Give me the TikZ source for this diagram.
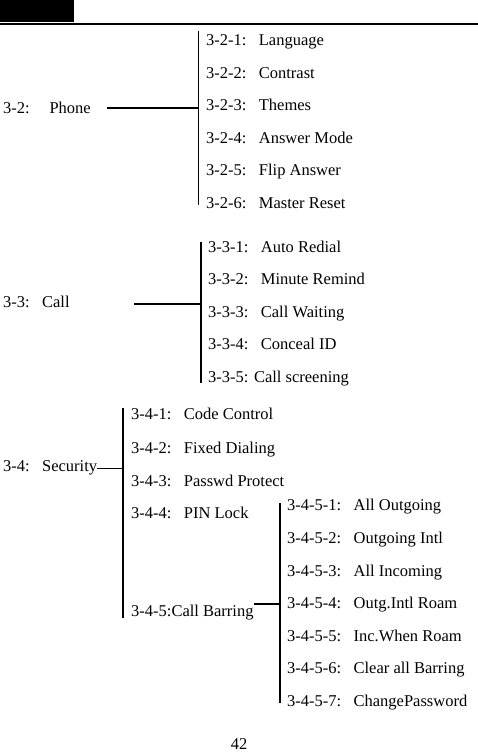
\documentclass[tikz,border=0pt]{standalone}
\usepackage{fontspec}
\setmainfont{Liberation Serif}
\usetikzlibrary{positioning}
\newcommand{\gap}{\hspace{0.75em}}

\begin{document}
\begin{tikzpicture}[
    x=1pt, y=-1pt,
    item/.style={anchor=base west, inner sep=0pt, font=\fontsize{16.5}{19}\selectfont},
    thin trunk/.style={line width=1pt},
    trunk/.style={line width=1.8pt},
]
\useasboundingbox (0,0) rectangle (478,752);

% Header
\fill (0,0) rectangle (74,22);
\draw[line width=2.6pt] (0,24) -- (478,24);

% 3-2 Phone
\node[item] (phone) at (3,113) {3-2:\hspace{1.2em}Phone};
\node[item] (n321) at (206,46) {3-2-1:\gap Language};
\node[item] (n322) at (206,78) {3-2-2:\gap Contrast};
\node[item] (n323) at (206,110) {3-2-3:\gap Themes};
\node[item] (n324) at (206,143) {3-2-4:\gap Answer Mode};
\node[item] (n325) at (206,175) {3-2-5:\gap Flip Answer};
\node[item] (n326) at (206,208) {3-2-6:\gap Master Reset};
\coordinate (t32) at (198,31);
\coordinate (b32) at (198,205);
\draw[thin trunk] (t32) -- (b32);
\draw[trunk] (107,108) -- (t32 |- 0,108);

% 3-3 Call
\node[item] (call) at (3,307) {3-3:\gap Call};
\node[item] (n331) at (208,252) {3-3-1:\gap Auto Redial};
\node[item] (n332) at (208,284) {3-3-2:\gap Minute Remind};
\node[item] (n333) at (208,317) {3-3-3:\gap Call Waiting};
\node[item] (n334) at (208,349) {3-3-4:\gap Conceal ID};
\node[item] (n335) at (208,382) {3-3-5: Call screening};
\coordinate (t33) at (201,242);
\coordinate (b33) at (201,383);
\draw[trunk] (t33) -- (b33);
\draw[trunk] (134,304) -- (t33 |- 0,304);

% 3-4 Security
\node[item] (security) at (3,471) {3-4:\gap Security};
\node[item] (n341) at (131,419) {3-4-1:\gap Code Control};
\node[item] (n342) at (131,453) {3-4-2:\gap Fixed Dialing};
\node[item] (n343) at (131,486) {3-4-3:\gap Passwd Protect};
\node[item] (n344) at (131,518) {3-4-4:\gap PIN Lock};
\node[item] (n345) at (131,616) {3-4-5:Call Barring};
\coordinate (t34) at (123,408);
\coordinate (b34) at (123,618);
\draw[trunk] (t34) -- (b34);
\draw[thin trunk] (security.east |- 0,468) -- (t34 |- 0,468);

% 3-4-5 Call Barring
\node[item] (n3451) at (287,510) {3-4-5-1:\gap All Outgoing};
\node[item] (n3452) at (287,543) {3-4-5-2:\gap Outgoing Intl};
\node[item] (n3453) at (287,576) {3-4-5-3:\gap All Incoming};
\node[item] (n3454) at (287,608) {3-4-5-4:\gap Outg.Intl Roam};
\node[item] (n3455) at (287,641) {3-4-5-5:\gap Inc.When Roam};
\node[item] (n3456) at (287,673) {3-4-5-6:\gap Clear all Barring};
\node[item] (n3457) at (287,706) {3-4-5-7:\gap ChangePassword};
\coordinate (t345) at (280,503);
\coordinate (b345) at (280,703);
\draw[trunk] (t345) -- (b345);
\draw[trunk] (n345.east |- 0,604) -- (t345 |- 0,604);

% Page number
\node[item, anchor=base] (page) at (239,749) {42};

\end{tikzpicture}
\end{document}
